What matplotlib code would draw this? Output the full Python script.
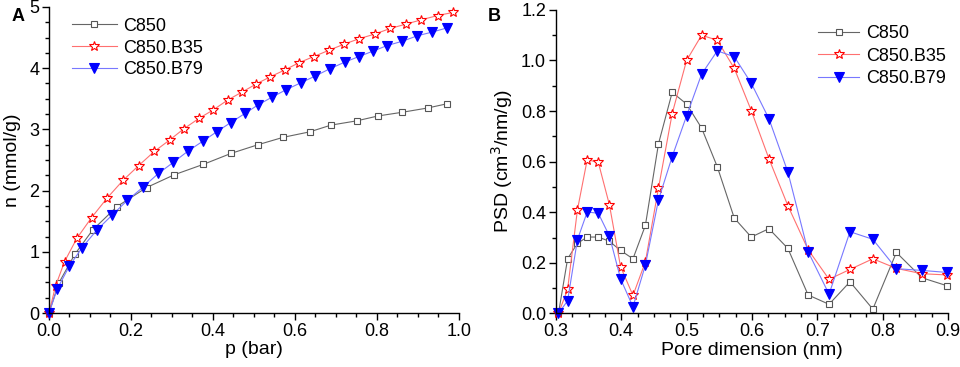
import matplotlib
matplotlib.use("Agg")
import matplotlib.pyplot as plt
from matplotlib.ticker import MultipleLocator

plt.rcParams['font.family'] = ['Liberation Sans', 'DejaVu Sans']

names = ["C850", "C850.B35", "C850.B79"]

# Panel A: isotherms
pA_c850 = [0, 0.024, 0.063, 0.107, 0.166, 0.238, 0.306, 0.377, 0.445, 0.510, 0.571, 0.636, 0.688, 0.751, 0.803, 0.862, 0.924, 0.972]
nA_c850 = [0, 0.49, 0.96, 1.36, 1.74, 2.05, 2.26, 2.43, 2.61, 2.75, 2.87, 2.96, 3.07, 3.14, 3.22, 3.28, 3.35, 3.42]

pA_b35 = [0, 0.016, 0.038, 0.068, 0.104, 0.142, 0.181, 0.219, 0.257, 0.295, 0.329, 0.366, 0.401, 0.436, 0.471, 0.505, 0.540, 0.575, 0.610, 0.646, 0.682, 0.719, 0.756, 0.796, 0.833, 0.871, 0.908, 0.948, 0.985]
nA_b35 = [0, 0.44, 0.84, 1.22, 1.56, 1.88, 2.17, 2.41, 2.64, 2.83, 3.01, 3.18, 3.32, 3.48, 3.61, 3.74, 3.86, 3.97, 4.09, 4.19, 4.29, 4.39, 4.48, 4.56, 4.65, 4.72, 4.79, 4.86, 4.91]

pA_b79 = [0, 0.020, 0.050, 0.081, 0.116, 0.154, 0.191, 0.230, 0.267, 0.303, 0.340, 0.376, 0.409, 0.443, 0.478, 0.510, 0.545, 0.579, 0.614, 0.649, 0.685, 0.722, 0.756, 0.791, 0.825, 0.862, 0.899, 0.935, 0.972]
nA_b79 = [0, 0.39, 0.77, 1.07, 1.35, 1.60, 1.84, 2.06, 2.28, 2.46, 2.65, 2.81, 2.96, 3.11, 3.26, 3.40, 3.53, 3.65, 3.76, 3.87, 3.99, 4.10, 4.19, 4.28, 4.37, 4.44, 4.53, 4.59, 4.66]

# Panel B: pore size distribution
dB = [0.304, 0.318, 0.333, 0.348, 0.365, 0.382, 0.399, 0.418, 0.437, 0.457, 0.478, 0.500, 0.523, 0.547, 0.573, 0.599, 0.626, 0.655, 0.686, 0.718, 0.750, 0.785, 0.821, 0.860, 0.899]
psd_c850 = [0, 0.216, 0.277, 0.302, 0.302, 0.285, 0.249, 0.216, 0.348, 0.670, 0.874, 0.828, 0.733, 0.580, 0.377, 0.302, 0.335, 0.257, 0.073, 0.036, 0.125, 0.017, 0.241, 0.141, 0.109]
psd_b35 = [0, 0.095, 0.409, 0.608, 0.597, 0.429, 0.185, 0.071, 0.204, 0.495, 0.790, 1.000, 1.100, 1.080, 0.969, 0.802, 0.612, 0.426, 0.252, 0.135, 0.174, 0.216, 0.178, 0.157, 0.152]
psd_b79 = [0, 0.050, 0.291, 0.401, 0.396, 0.306, 0.137, 0.026, 0.191, 0.448, 0.620, 0.781, 0.946, 1.038, 1.015, 0.910, 0.770, 0.559, 0.244, 0.076, 0.323, 0.293, 0.177, 0.170, 0.162]

styles = [
    dict(color="#666666", marker="s", markerfacecolor="white", markeredgecolor="#555555", markersize=5, lw=0.8, mew=0.8),
    dict(color="#ff7070", marker="*", markerfacecolor="white", markeredgecolor="red", markersize=7.5, lw=0.8, mew=0.8),
    dict(color="#7878ff", marker="v", markerfacecolor="blue", markeredgecolor="blue", markersize=6.5, lw=0.8, mew=0.8),
]

fig = plt.figure(figsize=(9.6, 3.67), dpi=100)
axA = fig.add_axes([0.051, 0.147, 0.427, 0.834])
axB = fig.add_axes([0.579, 0.146, 0.4085, 0.827])

for x, y, nm, st in zip([pA_c850, pA_b35, pA_b79], [nA_c850, nA_b35, nA_b79], names, styles):
    axA.plot(x, y, label=nm, clip_on=False, **st)
for y, nm, st in zip([psd_c850, psd_b35, psd_b79], names, styles):
    axB.plot(dB, y, label=nm, clip_on=False, **st)

axA.set_xlim(0, 1.0)
axA.set_ylim(0, 5)
axA.xaxis.set_minor_locator(MultipleLocator(0.05))
axA.yaxis.set_minor_locator(MultipleLocator(0.25))
axA.set_xticks([0, 0.2, 0.4, 0.6, 0.8, 1.0])
axA.set_xticklabels(["0.0", "0.2", "0.4", "0.6", "0.8", "1.0"])
axA.set_yticks([0, 1, 2, 3, 4, 5])
axA.set_yticklabels(["0", "1", "2", "3", "4", "5"])
axA.set_xlabel("p (bar)", fontsize=14, labelpad=1)
axA.set_ylabel("n (mmol/g)", fontsize=14, labelpad=6)

axB.set_xlim(0.3, 0.9)
axB.set_ylim(0, 1.2)
axB.xaxis.set_minor_locator(MultipleLocator(0.025))
axB.yaxis.set_minor_locator(MultipleLocator(0.1))
axB.set_xticks([0.3, 0.4, 0.5, 0.6, 0.7, 0.8, 0.9])
axB.set_xticklabels(["0.3", "0.4", "0.5", "0.6", "0.7", "0.8", "0.9"])
axB.set_yticks([0, 0.2, 0.4, 0.6, 0.8, 1.0, 1.2])
axB.set_yticklabels(["0.0", "0.2", "0.4", "0.6", "0.8", "1.0", "1.2"])
axB.set_xlabel("Pore dimension (nm)", fontsize=14, labelpad=1)
axB.set_ylabel("PSD (cm$^3$/nm/g)", fontsize=14, labelpad=4)

for ax in (axA, axB):
    ax.spines["top"].set_visible(False)
    ax.spines["right"].set_visible(False)
    ax.spines["left"].set_linewidth(1.0)
    ax.spines["bottom"].set_linewidth(1.0)
    ax.tick_params(which="major", direction="out", length=5, width=1, labelsize=13, pad=2)
    ax.tick_params(which="minor", direction="out", length=3, width=1)

axA.legend(loc="upper left", bbox_to_anchor=(0.056, 0.965), frameon=False, fontsize=13,
           handlelength=2.5, handletextpad=0.35, labelspacing=0.27, borderaxespad=0, borderpad=0)
axB.legend(loc="upper left", bbox_to_anchor=(0.668, 0.95), frameon=False, fontsize=13,
           handlelength=2.3, handletextpad=0.35, labelspacing=0.3, borderaxespad=0, borderpad=0)

fig.text(0.012, 0.955, "A", fontsize=13, fontweight="bold", ha="left", va="center")
fig.text(0.508, 0.955, "B", fontsize=13, fontweight="bold", ha="left", va="center")

fig.savefig("out.png", dpi=100)
